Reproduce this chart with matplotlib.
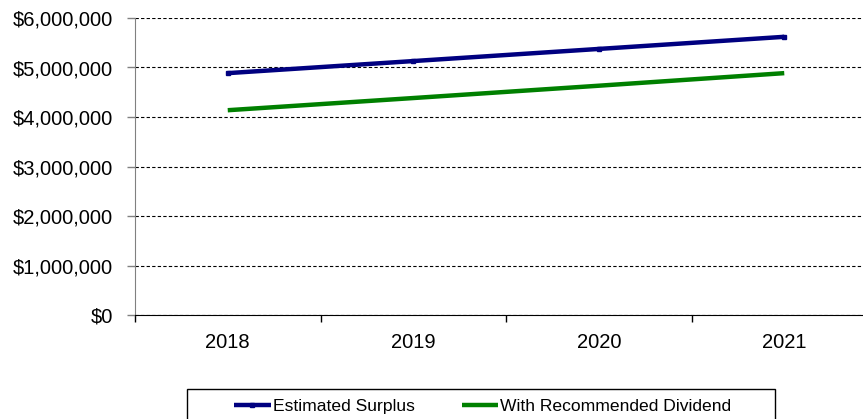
import numpy as np
import matplotlib.pyplot as plt
from matplotlib.patches import Rectangle
from matplotlib.ticker import FuncFormatter

plt.rcParams['font.family'] = ['Liberation Sans', 'DejaVu Sans']

years = ['2018', '2019', '2020', '2021']
estimated_surplus = [4886000, 5130000, 5375000, 5620000]
with_dividend = [4137000, 4383000, 4632000, 4886000]

fig = plt.figure(figsize=(8.63, 4.19), dpi=100)
# plot area runs slightly past the right edge of the canvas
ax = fig.add_axes([135 / 863, 1 - 315 / 419, 742 / 863, 297 / 419])

x = np.arange(len(years))
ax.plot(x, estimated_surplus, color='#000080', lw=3.2, marker='s', ms=3.5,
        solid_capstyle='butt', label='Estimated Surplus', zorder=3)
ax.plot(x, with_dividend, color='#008000', lw=3.2,
        solid_capstyle='butt', label='With Recommended Dividend', zorder=3)

ax.set_xlim(-0.5, 3.5)
ax.set_ylim(0, 6000000)
ax.set_yticks(np.arange(0, 6000001, 1000000))
ax.yaxis.set_major_formatter(FuncFormatter(lambda v, p: f'${v:,.0f}'))
ax.tick_params(axis='y', labelsize=14.5, length=6, width=1, color='#808080', pad=10)

# category labels centred, tick marks between categories
ax.set_xticks(x)
ax.set_xticklabels(years)
ax.set_xticks(np.arange(-0.5, 4, 1), minor=True)
ax.tick_params(axis='x', which='major', labelsize=14.5, length=0, pad=13)
ax.tick_params(axis='x', which='minor', length=5, width=1, color='black')

ax.grid(axis='y', color='black', linestyle=(0, (3, 2)), linewidth=0.8)
ax.set_axisbelow(True)
for side in ['top', 'right']:
    ax.spines[side].set_visible(False)
ax.spines['left'].set_color('#808080')
ax.spines['bottom'].set_color('black')

# legend box sits at the bottom, partly off the canvas
fig.patches.append(Rectangle((187 / 863, -0.1), 588 / 863, 0.1 + (419 - 389) / 419,
                             transform=fig.transFigure, fill=False,
                             edgecolor='black', linewidth=1))
fig.legend(loc='center left', bbox_to_anchor=(234 / 863, 1 - 406 / 419), ncol=2,
           frameon=False, fontsize=12.6, handlelength=2.1, handletextpad=0.1,
           columnspacing=2.7, borderpad=0, borderaxespad=0)

fig.savefig('out.png', dpi=100)
